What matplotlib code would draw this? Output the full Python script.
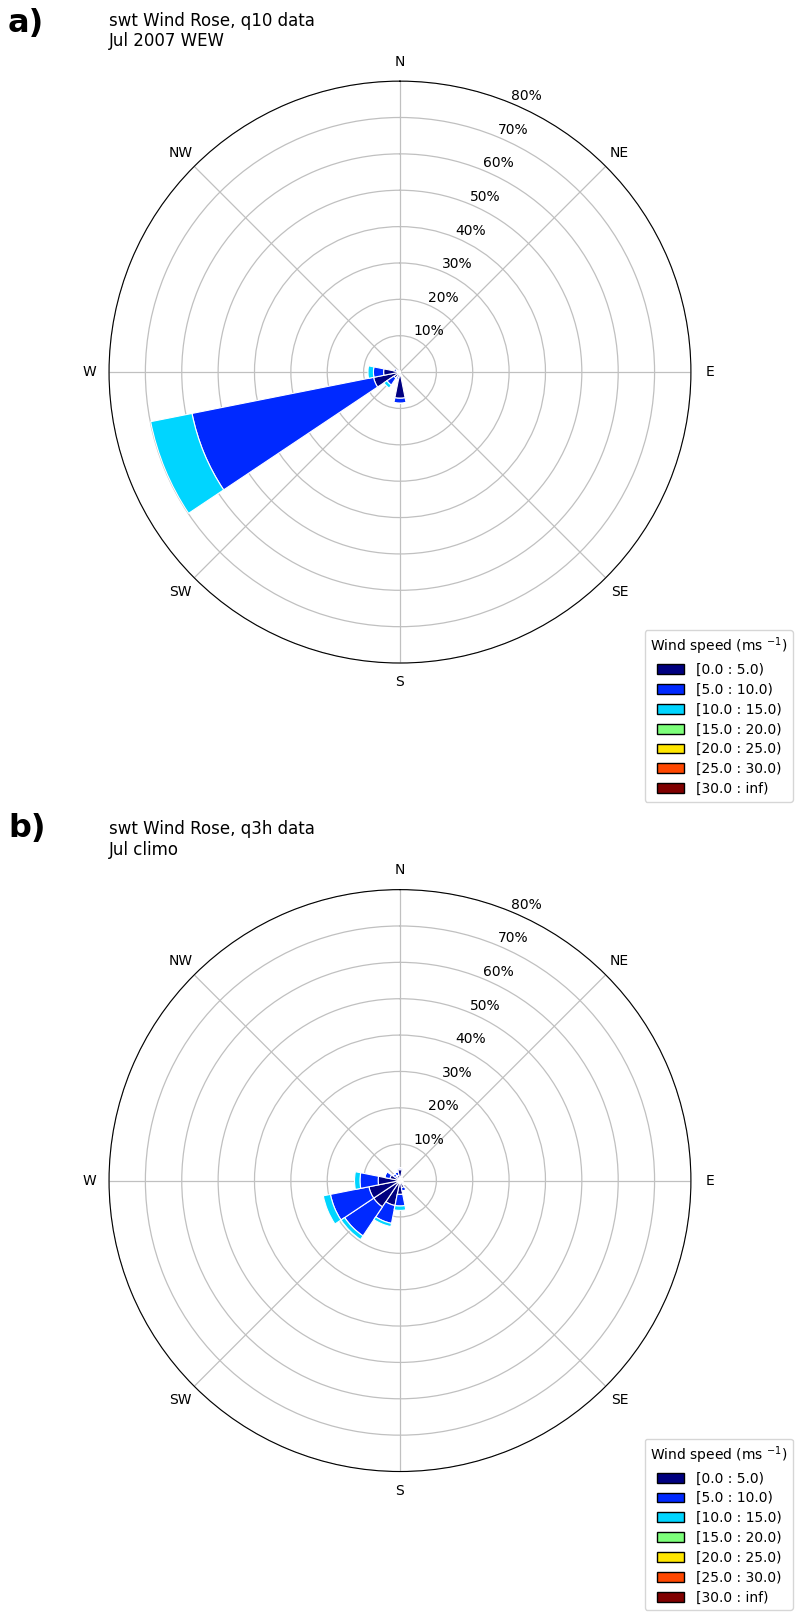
import numpy as np
import matplotlib.pyplot as plt
from matplotlib.patches import Rectangle

directions = ['N', 'NNE', 'NE', 'ENE', 'E', 'ESE', 'SE', 'SSE',
              'S', 'SSW', 'SW', 'WSW', 'W', 'WNW', 'NW', 'NNW']
compass_labels = ['N', 'NE', 'E', 'SE', 'S', 'SW', 'W', 'NW']
speed_bins = ['[0.0 : 5.0)', '[5.0 : 10.0)', '[10.0 : 15.0)', '[15.0 : 20.0)',
              '[20.0 : 25.0)', '[25.0 : 30.0)', '[30.0 : inf)']
r_ticks = [10, 20, 30, 40, 50, 60, 70, 80]

# frequency (%) per direction sector, one list per speed bin
# a) q10 data, Jul 2007 WEW
wew_0_5 = [0.3, 0.2, 0.0, 0.0, 0.0, 0.0, 0.2, 0.8,
           7.2, 1.5, 2.0, 7.4, 4.5, 1.0, 0.4, 0.3]
wew_5_10 = [0.0, 0.0, 0.0, 0.0, 0.0, 0.0, 0.0, 0.3,
            1.4, 0.6, 2.3, 50.9, 2.8, 0.8, 0.0, 0.0]
wew_10_15 = [0.0, 0.0, 0.0, 0.0, 0.0, 0.0, 0.0, 0.0,
             0.0, 0.0, 1.0, 11.6, 1.5, 0.0, 0.0, 0.0]

# b) q3h data, Jul climatology
climo_0_5 = [3.0, 1.2, 0.8, 0.5, 0.6, 0.8, 1.2, 2.0,
             3.8, 7.0, 8.7, 8.7, 6.0, 2.8, 1.5, 1.5]
climo_5_10 = [0.5, 0.0, 0.0, 0.0, 0.0, 0.0, 0.3, 1.0,
              3.2, 5.0, 9.6, 10.8, 5.0, 1.5, 0.8, 1.0]
climo_10_15 = [0.0, 0.0, 0.0, 0.0, 0.0, 0.0, 0.0, 0.0,
               1.2, 0.9, 1.2, 2.0, 1.5, 0.0, 0.0, 0.0]

colors = plt.cm.jet(np.linspace(0, 1, len(speed_bins)))


def plot_rose(ax, freqs, title):
    theta = np.deg2rad(np.arange(len(directions)) * 360.0 / len(directions))
    width = 2 * np.pi / len(directions)
    ax.set_theta_zero_location('N')
    ax.set_theta_direction(-1)
    ax.set_axisbelow(True)

    offset = np.zeros(len(directions))
    for vals, col in zip(freqs, colors):
        vals = np.asarray(vals, dtype=float)
        ax.bar(theta, vals, width=width, bottom=offset, color=col,
               edgecolor='white', linewidth=0.8)
        offset += vals

    ax.set_xticks(np.deg2rad(np.arange(0, 360, 45)))
    ax.set_xticklabels(compass_labels)
    ax.set_yticks(r_ticks)
    ax.set_yticklabels([f'{r}%' for r in r_ticks])
    ax.set_ylim(0, 80)
    ax.grid(True, color='#c0c0c0', linewidth=0.9)
    ax.set_title(title, loc='left', fontsize=12)

    handles = [Rectangle((0, 0), 0.2, 0.2, facecolor=c, edgecolor='black')
               for c in colors]
    ax.legend(handles, speed_bins, title='Wind speed (ms $^{-1}$)',
              loc='lower left', bbox_to_anchor=(0.9085, -0.250),
              fontsize=10, title_fontsize=10, labelspacing=0.42)


fig = plt.figure(figsize=(7.99, 16.16), dpi=100)
ax_a = fig.add_axes([0.1364, 0.5897, 0.7284, 0.3601], projection='polar')
ax_b = fig.add_axes([0.1364, 0.0894, 0.7284, 0.3601], projection='polar')

plot_rose(ax_a, [wew_0_5, wew_5_10, wew_10_15],
          'swt Wind Rose, q10 data\nJul 2007 WEW')
plot_rose(ax_b, [climo_0_5, climo_5_10, climo_10_15],
          'swt Wind Rose, q3h data\nJul climo')

fig.text(0.01, 0.9804, 'a)', fontsize=23, fontweight='bold')
fig.text(0.01, 0.4819, 'b)', fontsize=23, fontweight='bold')

fig.savefig('out.png', dpi=100)
